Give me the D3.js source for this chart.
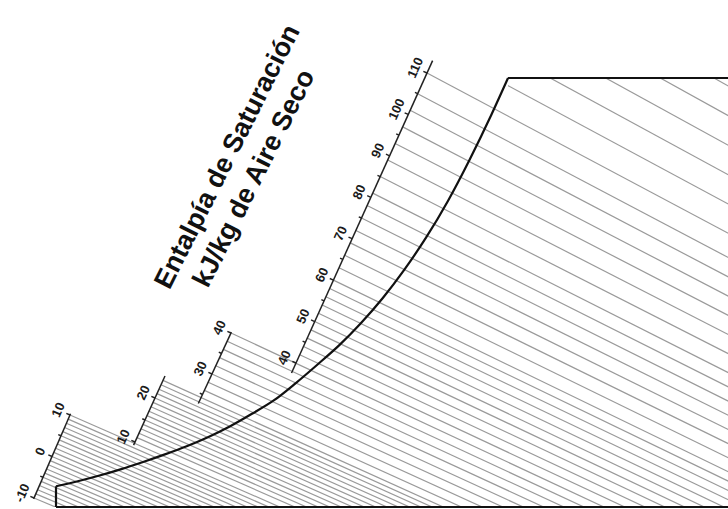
<!DOCTYPE html>
<html>
<head>
<meta charset="utf-8">
<script src="https://cdn.jsdelivr.net/npm/d3@7"></script>
<style>
  html, body { margin: 0; padding: 0; background: #fff; }
  svg { display: block; }
</style>
</head>
<body>
<svg id="chart" width="728" height="509"></svg>
<script>
// Saturation curve: dry-bulb temperature (°C) and humidity ratio at saturation (g/kg dry air)
const satTemp = [-10, -8, -6, -4, -2, 0, 2, 4, 6, 8, 10, 12, 14, 16, 18, 20, 22, 24, 26, 28, 30, 31.52];
const satHumidity = [1.45, 1.80, 2.20, 2.65, 3.15, 3.68, 4.25, 4.90, 5.65, 6.52, 7.45, 8.65, 9.95, 11.3, 12.85, 14.6, 16.6, 18.85, 21.4, 24.3, 27.45, 30.0];

// Chart frame limits
const tempRange = [-10, 52];
const humidityRange = [0, 30];

// Enthalpy lines (kJ/kg dry air), started on the scale bars
const enthalpyScaleLines = [
  -10, -9, -8, -7, -6, -5, -4, -3, -2, -1, 0, 1, 2, 3, 4, 5, 6, 7, 8, 9, 10,
  11, 12, 13, 14, 15, 16, 17, 18, 19, 20, 21, 22, 23, 24,
  26, 28, 30, 32, 34, 36, 38, 40, 42, 44, 46, 48, 50, 52, 54, 56, 58, 60,
  63, 66, 69, 72, 75, 78, 81, 85, 89, 93, 97, 101, 105, 110
];
// Enthalpy lines entering the chart through its upper border
const enthalpyTopLines = [116, 122, 128, 134, 140];

// Scale bars: labelled values, minor ticks and the value span of each bar
const segLabels = [[-10, 0, 10], [10, 20], [30, 40], [40, 50, 60, 70, 80, 90, 100, 110]];
const segMinor = [[-5, 5], [15], [25, 35], [45, 55, 65, 75, 85, 95, 105]];
const segExtent = [[-10.2, 10.3], [9.3, 25], [22.8, 40.2], [37.6, 113]];

const titleLines = ["Entalpía de Saturación", "kJ/kg de Aire Seco"];

// ---- layout ----
const width = 728, height = 509;
const svg = d3.select("#chart");

const x = d3.scaleLinear().domain(tempRange).range([56, 731]);
const y = d3.scaleLinear().domain(humidityRange).range([507, 78]);

// Each scale bar is placed by the screen positions of two of its values
const segAnchors = [
  {h: [-10, 10], p: [[34, 498], [70, 415]]},
  {h: [10, 20],  p: [[135, 442], [155, 398]]},
  {h: [30, 40],  p: [[212, 374], [231, 333]]},
  {h: [40, 110], p: [[296, 363], [427, 73]]}
];
const segScales = segAnchors.map(a => ({
  x: d3.scaleLinear().domain(a.h).range([a.p[0][0], a.p[1][0]]),
  y: d3.scaleLinear().domain(a.h).range([a.p[0][1], a.p[1][1]])
}));

// screen slope (dy/dx) of the enthalpy lines
const slope = d3.scaleLinear().domain([-10, 140]).range([0.42, 0.56]);

const topT = satTemp[satTemp.length - 1];
const defs = svg.append("defs");
defs.append("clipPath").attr("id", "frame")
  .append("rect").attr("x", 0).attr("y", 0).attr("width", width).attr("height", y(0));
defs.append("clipPath").attr("id", "upper")
  .append("rect").attr("x", x(topT)).attr("y", y(30)).attr("width", width).attr("height", y(0) - y(30));

function startSeg(h) {
  for (let i = 0; i < segExtent.length; i++) {
    if (h >= segExtent[i][0] && h <= segExtent[i][1]) return i;
  }
  return segExtent.length - 1;
}

const lineData = enthalpyScaleLines.map(h => {
  const s = segScales[startSeg(h)];
  return {h, x0: s.x(h), y0: s.y(h), clip: "frame"};
}).concat(enthalpyTopLines.map(h => {
  const s = segScales[3];
  return {h, x0: s.x(h), y0: s.y(h), clip: "upper"};
}));

const hatch = svg.append("g").attr("class", "enthalpy-lines");
hatch.selectAll("line").data(lineData).join("line")
  .attr("clip-path", d => `url(#${d.clip})`)
  .attr("x1", d => d.x0).attr("y1", d => d.y0)
  .attr("x2", d => d.x0 + 900).attr("y2", d => d.y0 + 900 * slope(d.h))
  .attr("stroke", "#9a9a9a").attr("stroke-width", 1.2);

// chart frame
const frame = svg.append("g").attr("stroke", "#111").attr("fill", "none").attr("stroke-width", 2.2);
frame.append("line").attr("x1", x(-10)).attr("x2", width).attr("y1", y(0)).attr("y2", y(0));
frame.append("line").attr("x1", x(-10)).attr("x2", x(-10)).attr("y1", y(0)).attr("y2", y(satHumidity[0]));
frame.append("line").attr("x1", x(topT)).attr("x2", width).attr("y1", y(30)).attr("y2", y(30));

// saturation curve
const satLine = d3.line().x(d => x(d[0])).y(d => y(d[1])).curve(d3.curveMonotoneX);
svg.append("path").datum(satTemp.map((t, i) => [t, satHumidity[i]]))
  .attr("d", satLine).attr("fill", "none").attr("stroke", "#111").attr("stroke-width", 2.2)
  .attr("stroke-linejoin", "round");

// scale bars with ticks and labels
segScales.forEach((s, i) => {
  const g = svg.append("g");
  const [e0, e1] = segExtent[i];
  g.append("line").attr("x1", s.x(e0)).attr("y1", s.y(e0)).attr("x2", s.x(e1)).attr("y2", s.y(e1))
    .attr("stroke", "#222").attr("stroke-width", 1.5);
  const dx = s.x(e1) - s.x(e0), dy = s.y(e1) - s.y(e0);
  const len = Math.hypot(dx, dy);
  const ux = dx / len, uy = dy / len;
  const nx = uy, ny = -ux; // normal towards the upper-left side of the bar
  const ang = Math.atan2(dy, dx) * 180 / Math.PI;
  const ticks = segLabels[i].map(v => ({v, major: true})).concat(segMinor[i].map(v => ({v, major: false})));
  g.selectAll("line.tick").data(ticks).join("line").attr("class", "tick")
    .attr("x1", d => s.x(d.v)).attr("y1", d => s.y(d.v))
    .attr("x2", d => s.x(d.v) + nx * (d.major ? 4 : 3)).attr("y2", d => s.y(d.v) + ny * (d.major ? 4 : 3))
    .attr("stroke", "#222").attr("stroke-width", 1.4);
  g.selectAll("text").data(segLabels[i]).join("text")
    .attr("transform", v => `translate(${s.x(v) + nx * 13},${s.y(v) + ny * 13}) rotate(${ang})`)
    .attr("text-anchor", "middle").attr("dominant-baseline", "central")
    .attr("font-family", "Liberation Sans, Arial, sans-serif").attr("font-weight", "bold")
    .attr("font-size", 13).attr("fill", "#1a1a1a")
    .text(v => v);
});

// title
const title = svg.append("g").attr("transform", "translate(240,167) rotate(-63.3)")
  .attr("font-family", "Liberation Sans, Arial, sans-serif").attr("font-weight", "bold")
  .attr("font-size", 27).attr("fill", "#111").attr("text-anchor", "middle")
  .attr("dominant-baseline", "central");
title.append("text").attr("x", 3.6).attr("y", -16.5).text(titleLines[0]);
title.append("text").attr("x", -3.8).attr("y", 17).text(titleLines[1]);
</script>
</body>
</html>
